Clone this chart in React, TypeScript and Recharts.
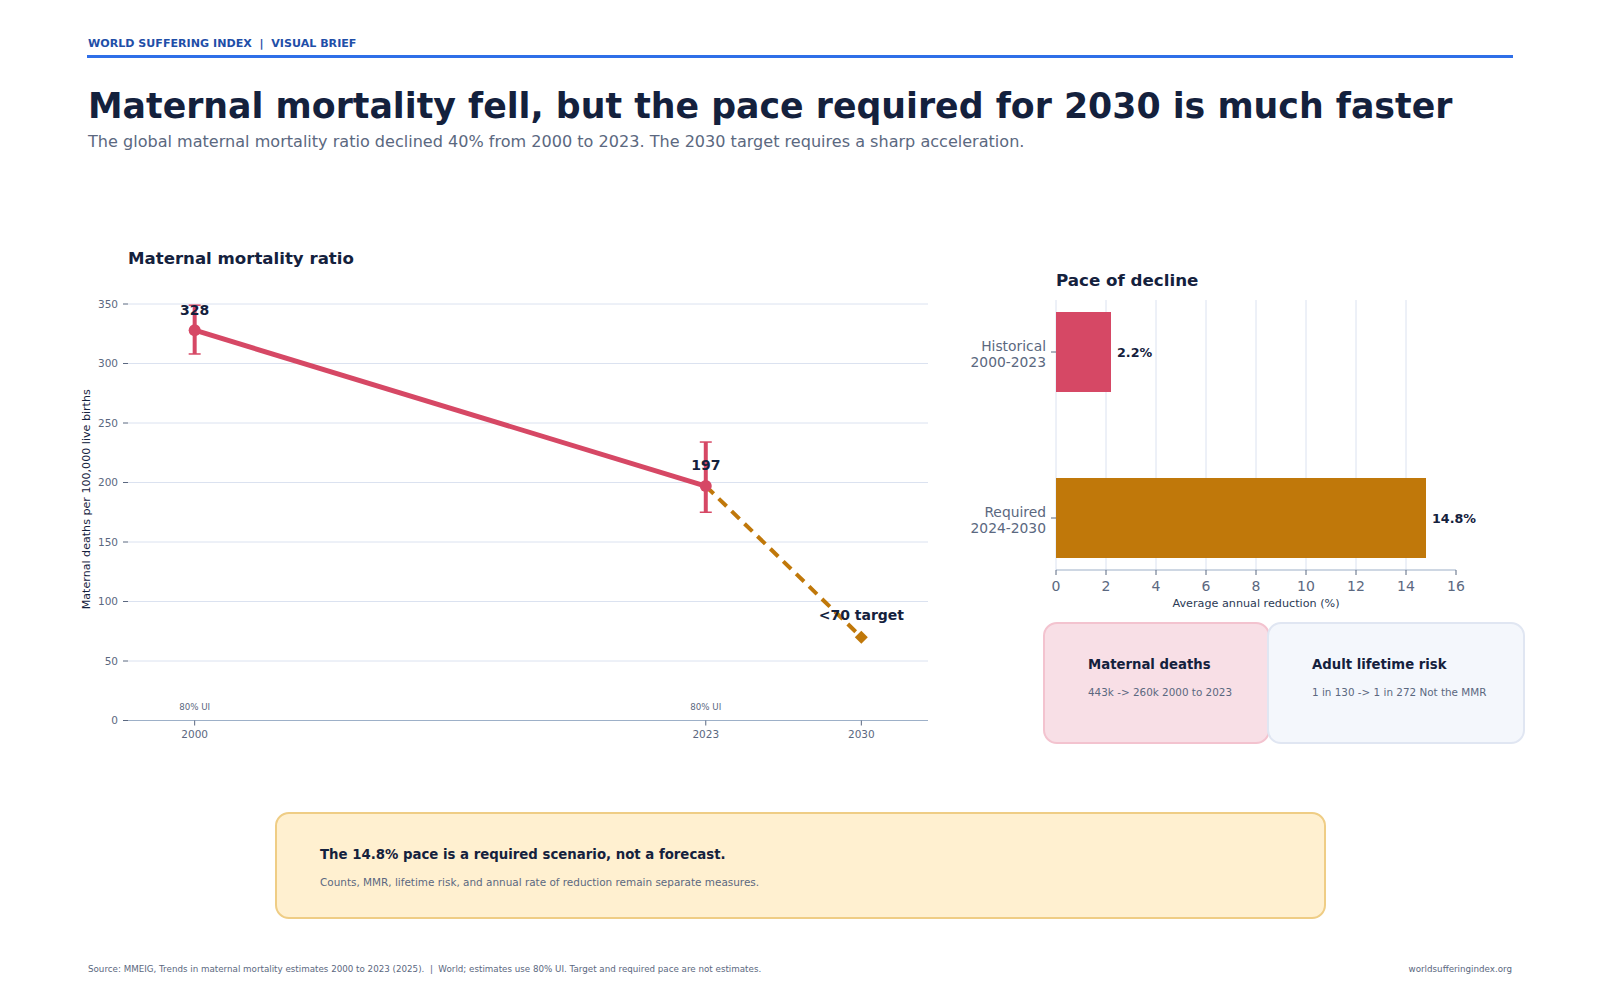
import {
  Bar,
  BarChart,
  CartesianGrid,
  Cell,
  ComposedChart,
  ErrorBar,
  LabelList,
  Line,
  ReferenceDot,
  XAxis,
  YAxis,
} from "recharts";

const FONT = '"DejaVu Sans", sans-serif';
const INK = "#14213d";
const MUTED = "#5b6880";
const GRID = "#dbe2f0";
const AXIS = "#9db0c8";
const RED = "#d64865";
const AMBER = "#c0780a";

const YEARS = [2000, 2023, 2030];
const MMR = [328, 197, null];
const MMR_LOW = [308, 175, null];
const MMR_HIGH = [349, 234, null];
const TARGET = [null, 197, 70];
const MMR_TICKS = [0, 50, 100, 150, 200, 250, 300, 350];

const PACE_LABELS = ["Historical\n2000-2023", "Required\n2024-2030"];
const PACE_VALUES = [2.2, 14.8];
const PACE_COLORS = [RED, AMBER];
const PACE_TICKS = [0, 2, 4, 6, 8, 10, 12, 14, 16];
const PACE_GRID = [0, 2, 4, 6, 8, 10, 12, 14];

const mmrData = YEARS.map((year, i) => ({
  year,
  mmr: MMR[i],
  target: TARGET[i],
  ui: MMR[i] === null ? null : [MMR[i]! - MMR_LOW[i]!, MMR_HIGH[i]! - MMR[i]!],
}));

const paceData = PACE_LABELS.map((label, i) => ({ label, value: PACE_VALUES[i] }));

function PaceTick({ x, y, payload }: any) {
  const [a, b] = String(payload.value).split("\n");
  return (
    <text x={x - 3} y={y} textAnchor="end" fill={MUTED} fontSize={13.85} fontFamily={FONT}>
      <tspan x={x - 3} dy={-1.5}>{a}</tspan>
      <tspan x={x - 3} dy={16}>{b}</tspan>
    </text>
  );
}

function TargetDot({ cx, cy, index }: any) {
  if (index !== 2) return <g key={index} />;
  return <path key={index} d={`M${cx} ${cy - 6.5}L${cx + 6.5} ${cy}L${cx} ${cy + 6.5}L${cx - 6.5} ${cy}Z`} fill={AMBER} />;
}

function PointLabel({ x, y, value, index }: any) {
  if (value == null) return null;
  return (
    <text x={x} y={index === 1 ? y - 16 : y - 15} textAnchor="middle" fill={INK} fontSize={14} fontWeight={700} fontFamily={FONT}>
      {value}
    </text>
  );
}

function TargetLabel({ x, y, index }: any) {
  if (index !== 2) return null;
  return (
    <text x={x} y={y - 17} textAnchor="middle" fill={INK} fontSize={14} fontWeight={700} fontFamily={FONT}>
      {"<70 target"}
    </text>
  );
}

function UiLabel({ viewBox }: any) {
  return (
    <text x={viewBox.x} y={viewBox.y + 3} textAnchor="middle" fill={MUTED} fontSize={8.7} fontFamily={FONT}>
      80% UI
    </text>
  );
}

function Txt(props: { x: number; y: number; size: number; color: string; bold?: boolean; right?: boolean; children: string }) {
  const { x, y, size, color, bold, right, children } = props;
  return (
    <div
      style={{
        position: "absolute",
        top: y,
        ...(right ? { right: 1600 - x } : { left: x }),
        transform: "translateY(-50%)",
        fontSize: size,
        fontWeight: bold ? 700 : 400,
        color,
        whiteSpace: "pre",
        lineHeight: 1.2,
      }}
    >
      {children}
    </div>
  );
}

function Box(props: { x: number; y: number; w: number; h: number; bg: string; border: string }) {
  return (
    <div
      style={{
        position: "absolute",
        left: props.x,
        top: props.y,
        width: props.w,
        height: props.h,
        boxSizing: "border-box",
        background: props.bg,
        border: `2px solid ${props.border}`,
        borderRadius: 14,
      }}
    />
  );
}

export default function App() {
  return (
    <div style={{ position: "absolute", left: 0, top: 0, width: 1600, height: 1000, background: "#fff", fontFamily: FONT, overflow: "hidden" }}>
      <Txt x={88} y={44} size={11.1} color="#1f4fa8" bold>{"WORLD SUFFERING INDEX  |  VISUAL BRIEF"}</Txt>
      <div style={{ position: "absolute", left: 87, top: 55, width: 1426, height: 3, background: "#2f6fe8" }} />
      <Txt x={88} y={107} size={34.75} color={INK} bold>Maternal mortality fell, but the pace required for 2030 is much faster</Txt>
      <Txt x={88} y={142} size={16.07} color={MUTED}>The global maternal mortality ratio declined 40% from 2000 to 2023. The 2030 target requires a sharp acceleration.</Txt>

      <Txt x={128} y={258.5} size={16.6} color={INK} bold>Maternal mortality ratio</Txt>
      <div style={{ position: "absolute", left: 60, top: 294 }}>
        <ComposedChart width={870} height={456.5} data={mmrData} margin={{ top: 10, right: 2, bottom: 0, left: 0 }}>
          <CartesianGrid horizontal vertical={false} stroke={GRID} strokeWidth={1} />
          <XAxis
            dataKey="year"
            type="number"
            domain={[1997, 2033]}
            ticks={YEARS}
            height={30}
            tick={{ fill: MUTED, fontSize: 10.5, fontFamily: FONT }}
            tickLine={{ stroke: MUTED }}
            axisLine={{ stroke: AXIS, strokeWidth: 1.2 }}
            tickSize={5}
            tickMargin={5}
          />
          <YAxis
            type="number"
            domain={[0, 350]}
            ticks={MMR_TICKS}
            width={68}
            axisLine={false}
            tick={{ fill: MUTED, fontSize: 10.5, fontFamily: FONT }}
            tickLine={{ stroke: MUTED }}
            tickSize={5}
            tickMargin={5}
            label={{ value: "Maternal deaths per 100,000 live births", angle: -90, position: "insideLeft", offset: 26, dy: 97, style: { fill: INK, fontSize: 11.1, fontFamily: FONT } }}
          />
          <Line
            dataKey="mmr"
            stroke={RED}
            strokeWidth={5}
            connectNulls={false}
            dot={{ r: 6, fill: RED, stroke: RED, strokeWidth: 0 }}
            isAnimationActive={false}
            label={<PointLabel />}
          >
            <ErrorBar dataKey="ui" direction="y" stroke={RED} strokeWidth={1.5} width={6} isAnimationActive={false} />
            <ErrorBar dataKey="ui" direction="y" stroke={RED} strokeWidth={4} width={0} isAnimationActive={false} />
          </Line>
          <Line
            dataKey="target"
            stroke={AMBER}
            strokeWidth={4}
            strokeDasharray="11 7"
            dot={<TargetDot />}
            isAnimationActive={false}
            label={<TargetLabel />}
          />
          <ReferenceDot x={2000} y={11} r={0} label={<UiLabel />} />
          <ReferenceDot x={2023} y={11} r={0} label={<UiLabel />} />
        </ComposedChart>
      </div>

      <Txt x={1056} y={280} size={16.7} color={INK} bold>Pace of decline</Txt>
      <div style={{ position: "absolute", left: 940, top: 290 }}>
        <BarChart width={560} height={330} data={paceData} layout="vertical" margin={{ top: 10, right: 44, bottom: 0, left: 0 }}>
          <CartesianGrid
            horizontal={false}
            vertical
            stroke={GRID}
            verticalCoordinatesGenerator={({ offset }: any) => PACE_GRID.map((v) => offset.left + (v / 16) * offset.width)}
          />
          <XAxis
            type="number"
            domain={[0, 16]}
            ticks={PACE_TICKS}
            height={50}
            tick={{ fill: MUTED, fontSize: 14, fontFamily: FONT }}
            tickLine={{ stroke: MUTED }}
            axisLine={{ stroke: AXIS, strokeWidth: 1.2 }}
            tickSize={5}
            tickMargin={6}
            label={{ value: "Average annual reduction (%)", position: "insideBottom", offset: 13, style: { fill: "#2b3a55", fontSize: 11.2, fontFamily: FONT } }}
          />
          <YAxis
            dataKey="label"
            type="category"
            width={116}
            padding={{ top: -31, bottom: -31 }}
            axisLine={false}
            tick={<PaceTick />}
            tickLine={{ stroke: MUTED }}
            tickSize={5}
            interval={0}
          />
          <Bar dataKey="value" barSize={80} isAnimationActive={false}>
            {PACE_COLORS.map((c, i) => (
              <Cell key={i} fill={c} />
            ))}
            <LabelList
              dataKey="value"
              position="right"
              offset={6}
              formatter={(v: any) => `${v}%`}
              style={{ fill: INK, fontSize: 12.7, fontWeight: 700, fontFamily: FONT }}
            />
          </Bar>
        </BarChart>
      </div>

      <Box x={1043} y={621.5} w={227} h={122} bg="#f8dfe6" border="#f3c3cf" />
      <Box x={1267} y={621.5} w={258} h={122} bg="#f4f7fc" border="#e0e6f2" />
      <Txt x={1088} y={665} size={13.25} color={INK} bold>Maternal deaths</Txt>
      <Txt x={1088} y={692} size={10.4} color={MUTED}>{"443k -> 260k 2000 to 2023"}</Txt>
      <Txt x={1312} y={665} size={13.25} color={INK} bold>Adult lifetime risk</Txt>
      <Txt x={1312} y={692} size={10.4} color={MUTED}>{"1 in 130 -> 1 in 272 Not the MMR"}</Txt>

      <Box x={274.5} y={811.5} w={1051} h={107} bg="#fff0d0" border="#efcd85" />
      <Txt x={320} y={855} size={13.3} color={INK} bold>The 14.8% pace is a required scenario, not a forecast.</Txt>
      <Txt x={320} y={882} size={10.44} color={MUTED}>Counts, MMR, lifetime risk, and annual rate of reduction remain separate measures.</Txt>

      <Txt x={88} y={969} size={8.73} color={MUTED}>{"Source: MMEIG, Trends in maternal mortality estimates 2000 to 2023 (2025).  |  World; estimates use 80% UI. Target and required pace are not estimates."}</Txt>
      <Txt x={1512} y={969} size={8.73} color={MUTED} right>worldsufferingindex.org</Txt>
    </div>
  );
}
